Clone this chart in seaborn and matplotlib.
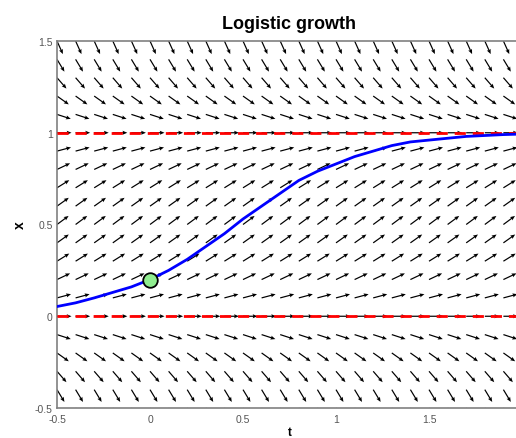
import numpy as np
import pandas as pd
import matplotlib
matplotlib.use("Agg")
import matplotlib.pyplot as plt
import seaborn as sns
from matplotlib.ticker import MultipleLocator

# Solution curve x(t) starting from x(0) = 0.2
t_curve = [-0.5, -0.4, -0.3, -0.2, -0.1, 0.0, 0.1, 0.2, 0.3, 0.4, 0.5, 0.6, 0.7,
           0.8, 0.9, 1.0, 1.1, 1.2, 1.3, 1.4, 1.5, 1.6, 1.7, 1.8, 1.9, 2.0]
x_curve = [0.053, 0.073, 0.10, 0.13, 0.16, 0.20, 0.25, 0.31, 0.38, 0.45, 0.53,
           0.60, 0.67, 0.74, 0.79, 0.83, 0.87, 0.90, 0.93, 0.95, 0.96, 0.97,
           0.98, 0.985, 0.99, 0.993]

# Initial condition
t0 = [0.0]
x0 = [0.2]

# Equilibria
equilibria = [0.0, 1.0]

# Slope field: grid of t and x, with slope dx/dt for each x-row
t_grid = [-0.5, -0.4, -0.3, -0.2, -0.1, 0.0, 0.1, 0.2, 0.3, 0.4, 0.5, 0.6, 0.7,
          0.8, 0.9, 1.0, 1.1, 1.2, 1.3, 1.4, 1.5, 1.6, 1.7, 1.8, 1.9, 2.0]
x_rows = [-0.5, -0.4, -0.3, -0.2, -0.1, 0.0, 0.1, 0.2, 0.3, 0.4, 0.5, 0.6, 0.7,
          0.8, 0.9, 1.0, 1.1, 1.2, 1.3, 1.4, 1.5]
row_slopes = [-2.25, -1.68, -1.17, -0.72, -0.33, 0.0, 0.27, 0.48, 0.63, 0.72, 0.75,
              0.72, 0.63, 0.48, 0.27, 0.0, -0.33, -0.72, -1.17, -1.68, -2.25]

sns.set_style("white")
plt.rcParams["font.family"] = ["Liberation Sans", "DejaVu Sans"]

fig = plt.figure(figsize=(5.16, 4.39), dpi=100)
ax = fig.add_axes([57 / 516, 30 / 439, (522 - 57) / 516, (409 - 42) / 439])

# Direction field: unit-direction arrows with tails on the grid points
T, X = np.meshgrid(t_grid, x_rows)
S = np.repeat(np.array(row_slopes)[:, None], len(t_grid), axis=1)
norm = np.sqrt(1.0 + S ** 2)
arrow_len = 0.078
U = arrow_len / norm
V = arrow_len * S / norm
ax.quiver(T, X, U, V, angles="xy", scale_units="xy", scale=1, color="black",
          width=0.0026, headwidth=3.4, headlength=4.0, headaxislength=3.5,
          pivot="tail", zorder=2)

# Equilibrium lines
for xe in equilibria:
    ax.axhline(xe, color="red", lw=2.0, ls=(0, (4, 2.5)), zorder=3)

# Solution curve and initial point
df_curve = pd.DataFrame({"t": t_curve, "x": x_curve})
sns.lineplot(data=df_curve, x="t", y="x", color="#0000ff", lw=2.0, ax=ax,
             sort=False, estimator=None, zorder=4)
df_ic = pd.DataFrame({"t": t0, "x": x0})
sns.scatterplot(data=df_ic, x="t", y="x", s=110, color="#90ee90",
                edgecolor="black", linewidth=1.3, ax=ax, zorder=5)

ax.set_xlim(-0.5, 2.0)
ax.set_ylim(-0.5, 1.5)
ax.set_xticks([-0.5, 0, 0.5, 1, 1.5])
ax.set_xticklabels(["-0.5", "0", "0.5", "1", "1.5"])
ax.set_yticks([-0.5, 0, 0.5, 1, 1.5])
ax.set_yticklabels(["-0.5", "0", "0.5", "1", "1.5"])
ax.xaxis.set_minor_locator(MultipleLocator(0.1))
ax.yaxis.set_minor_locator(MultipleLocator(0.1))
ax.tick_params(which="both", direction="in", colors="#707070", labelsize=7.5,
               width=0.8, labelcolor="#555555")
ax.tick_params(axis="x", which="both", pad=4)
ax.tick_params(axis="y", which="both", pad=3)
ax.tick_params(which="major", length=4)
ax.tick_params(which="minor", length=2.2)
for side in ["left", "bottom", "top", "right"]:
    ax.spines[side].set_color("#808080")
    ax.spines[side].set_linewidth(1.2)

ax.set_xlabel("t", fontsize=8.5, fontweight="bold", labelpad=2, color="black")
ax.set_ylabel("x", fontsize=10, fontweight="bold", labelpad=6, rotation=90,
              color="black")
ax.set_title("Logistic growth", fontsize=13, fontweight="bold", pad=9,
             color="black")

fig.savefig("out.png", dpi=100)
